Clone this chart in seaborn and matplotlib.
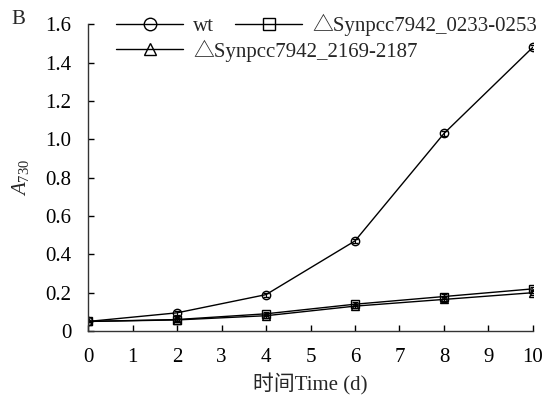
import matplotlib
matplotlib.use("Agg")
import matplotlib.pyplot as plt
import seaborn as sns
import pandas as pd

# growth curves, A730 vs time
days = [0, 2, 4, 6, 8, 10]
wt = [0.05, 0.095, 0.19, 0.47, 1.03, 1.48]
d0233 = [0.05, 0.06, 0.09, 0.14, 0.18, 0.22]
d2169 = [0.05, 0.058, 0.08, 0.13, 0.165, 0.20]
err_wt = [0.005, 0.01, 0.01, 0.012, 0.015, 0.01]
err_0233 = [0.005, 0.01, 0.01, 0.01, 0.012, 0.012]
err_2169 = [0.005, 0.01, 0.01, 0.01, 0.012, 0.012]
labels = ["wt", "△Synpcc7942_0233-0253", "△Synpcc7942_2169-2187"]
y_ticks = [0, 0.2, 0.4, 0.6, 0.8, 1.0, 1.2, 1.4, 1.6]
y_ticklabels = ["0", "0.2", "0.4", "0.6", "0.8", "1.0", "1.2", "1.4", "1.6"]

sns.set_style("ticks")
plt.rcParams['font.family'] = ['Liberation Serif', 'Noto Sans CJK SC']
plt.rcParams['mathtext.fontset'] = 'custom'
plt.rcParams['mathtext.rm'] = 'Liberation Serif'
plt.rcParams['mathtext.it'] = 'Liberation Serif:italic'

fig = plt.figure(figsize=(5.54, 3.96), dpi=100)
ax = fig.add_axes([0.159, 0.164, 0.803, 0.775])

series = [(wt, err_wt, "o", labels[0]),
          (d0233, err_0233, "s", labels[1]),
          (d2169, err_2169, "^", labels[2])]
handles = []
for vals, err, mk, lab in series:
    df = pd.DataFrame({"day": days, "a730": vals})
    n_before = len(ax.get_lines())
    sns.lineplot(data=df, x="day", y="a730", ax=ax, color="black", lw=1.0,
                 marker=mk, markersize=6, markerfacecolor="none",
                 markeredgecolor="black", markeredgewidth=1.0, label=lab)
    handles.append(ax.get_lines()[n_before])
    ax.errorbar(days, vals, yerr=err, fmt="none", ecolor="black", elinewidth=0.8, capsize=2)

# two legend rows: wt + 0233 on top, 2169 below
leg_kw = dict(frameon=False, fontsize=15, handlelength=3.2, markerscale=1.5,
              loc="upper left", handletextpad=0.5, borderpad=0, borderaxespad=0,
              columnspacing=1.0)
leg1 = ax.legend(handles=[handles[0], handles[1]], labels=[labels[0], labels[1]],
                 ncol=2, bbox_to_anchor=(0.21, 0.965), bbox_transform=fig.transFigure,
                 **leg_kw)
ax.add_artist(leg1)
ax.legend(handles=[handles[2]], labels=[labels[2]],
          bbox_to_anchor=(0.21, 0.90), bbox_transform=fig.transFigure, **leg_kw)

ax.set_xlim(0, 10)
ax.set_ylim(0, 1.6)
ax.set_xticks(range(0, 11))
ax.set_yticks(y_ticks)
ax.set_yticklabels(y_ticklabels)
ax.tick_params(direction="in", length=4, width=1, labelsize=15, colors="black")
ax.tick_params(axis="y", pad=12)
ax.tick_params(axis="x", pad=12)
for side in ["top", "right"]:
    ax.spines[side].set_visible(False)
for side in ["left", "bottom"]:
    ax.spines[side].set_color("#333333")
    ax.spines[side].set_linewidth(1.0)

ax.set_xlabel("时间Time (d)", fontsize=15, labelpad=5)
ax.set_ylabel(r"$\mathit{A}_{730}$", fontsize=15, labelpad=10)
fig.text(0.02, 0.94, "B", fontsize=15)

fig.savefig("out.png", dpi=100)
